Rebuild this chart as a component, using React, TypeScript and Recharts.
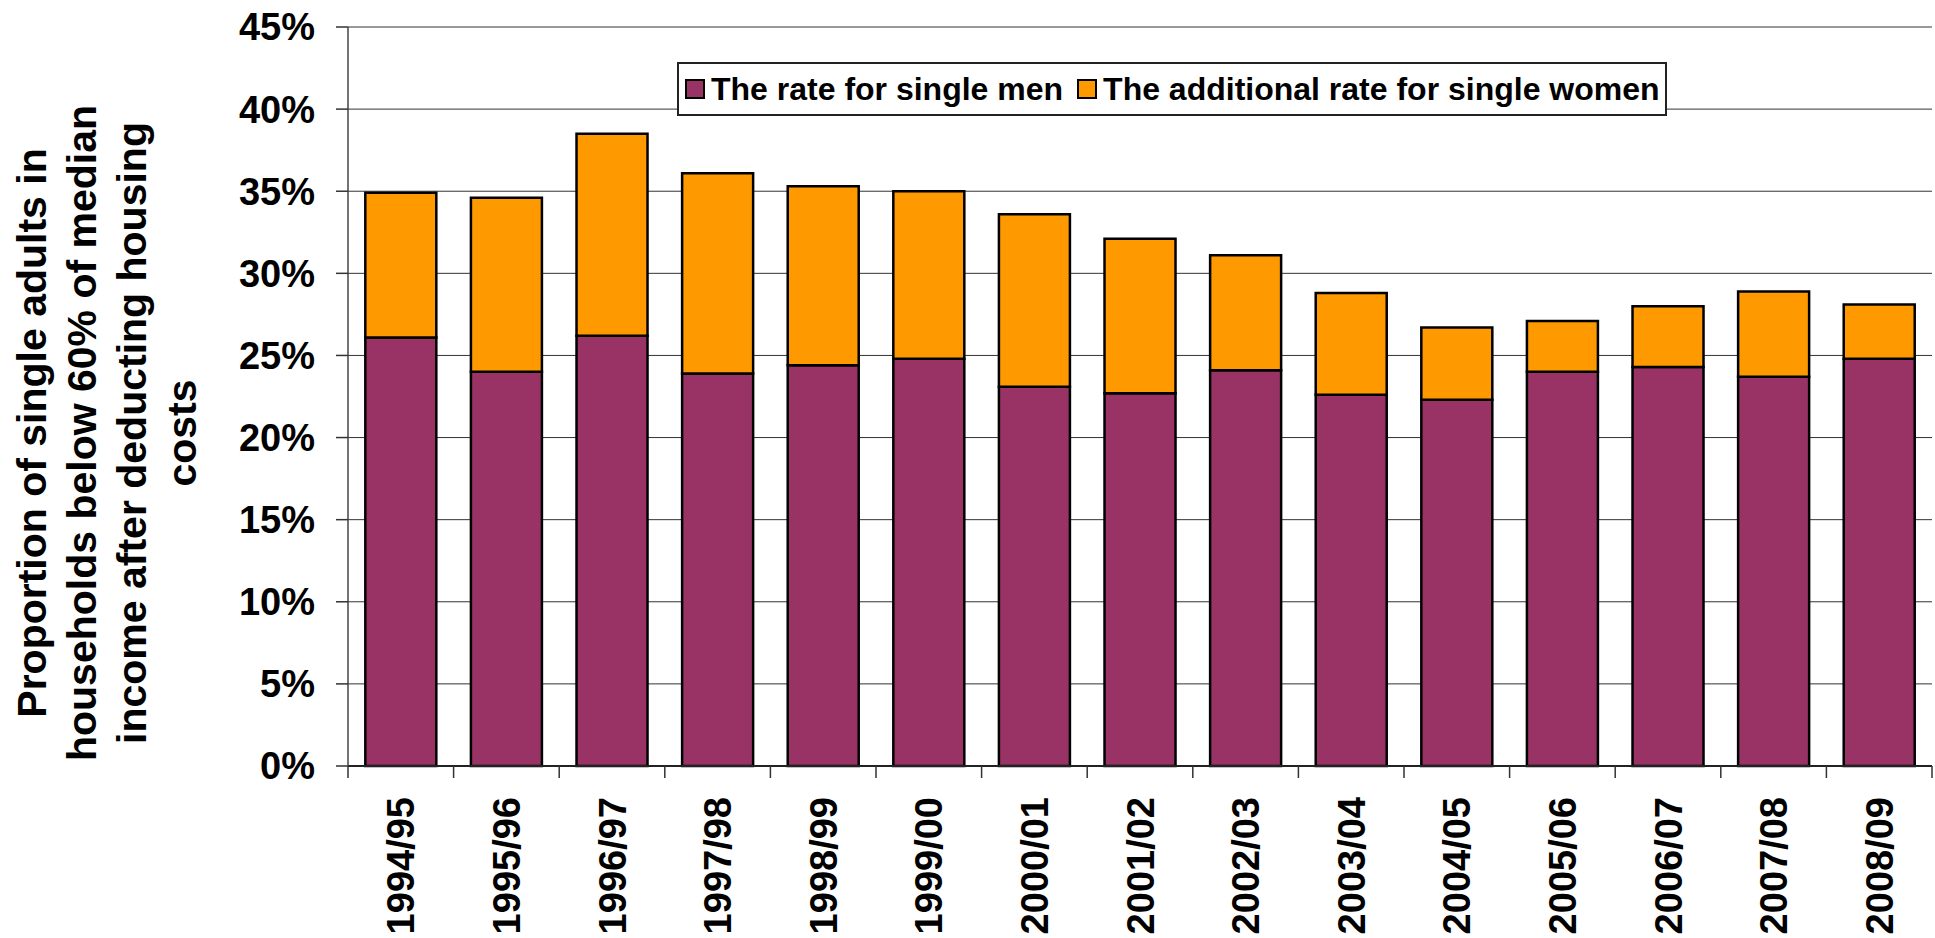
import React from "react";
import { BarChart, Bar, XAxis, YAxis, CartesianGrid } from "recharts";

const years = [
  "1994/95", "1995/96", "1996/97", "1997/98", "1998/99", "1999/00", "2000/01", "2001/02",
  "2002/03", "2003/04", "2004/05", "2005/06", "2006/07", "2007/08", "2008/09",
];
const menRate = [26.1, 24.0, 26.2, 23.9, 24.4, 24.8, 23.1, 22.7, 24.1, 22.6, 22.3, 24.0, 24.3, 23.7, 24.8];
const womenExtra = [8.8, 10.6, 12.3, 12.2, 10.9, 10.2, 10.5, 9.4, 7.0, 6.2, 4.4, 3.1, 3.7, 5.2, 3.3];
const yTicks = [0, 5, 10, 15, 20, 25, 30, 35, 40, 45];
const yTitleLines = [
  "Proportion of single adults in",
  "households below 60% of median",
  "income after deducting housing",
  "costs",
];
const legendItems = ["The rate for single men", "The additional rate for single women"];

const data = years.map((year, i) => ({ year, men: menRate[i], women: womenExtra[i] }));

const FONT = "'Liberation Sans', Arial, sans-serif";
const MEN = "#993366";
const WOMEN = "#FF9900";
const legendColors = [MEN, WOMEN];

const XTick = (props: any) => {
  const { x, y, payload, index } = props;
  const half = payload.offset || 0;
  return (
    <g>
      <line x1={x - half} x2={x - half} y1={y} y2={y + 12} stroke="#333" strokeWidth={1.5} />
      {index === years.length - 1 && (
        <line x1={x + half} x2={x + half} y1={y} y2={y + 12} stroke="#333" strokeWidth={1.5} />
      )}
      <g transform={`translate(${x},${y + 31})`}>
        <text
          transform="rotate(-90)"
          textAnchor="end"
          dy="0.355em"
          fontFamily={FONT}
          fontWeight="bold"
          fontSize={38}
          fill="#000"
        >
          {payload.value}
        </text>
      </g>
    </g>
  );
};

const YTitle = () => (
  <g>
    {yTitleLines.map((line, i) => (
      <text
        key={i}
        transform={`translate(${46 + i * 50},433) rotate(-90)`}
        textAnchor="middle"
        fontFamily={FONT}
        fontWeight="bold"
        fontSize={41}
        fill="#000"
      >
        {line}
      </text>
    ))}
  </g>
);

const LegendBox = () => (
  <div
    style={{
      position: "absolute",
      left: 677,
      top: 62,
      boxSizing: "border-box",
      width: 990,
      height: 54,
      border: "2px solid #222",
      background: "#fff",
      display: "flex",
      alignItems: "center",
      paddingLeft: 6,
      fontFamily: FONT,
      fontWeight: "bold",
      fontSize: 32,
      color: "#000",
      whiteSpace: "nowrap",
    }}
  >
    {legendItems.map((name, i) => (
      <div key={i} style={{ display: "flex", alignItems: "center", marginRight: 14 }}>
        <div
          style={{
            boxSizing: "border-box",
            width: 20,
            height: 20,
            background: legendColors[i],
            border: "2px solid #000",
            marginRight: 6,
          }}
        />
        <span>{name}</span>
      </div>
    ))}
  </div>
);

export default function App() {
  return (
    <div style={{ width: 1935, height: 938, position: "relative", background: "#fff" }}>
      <style>{`body{margin:0}`}</style>
      <BarChart
        width={1935}
        height={938}
        data={data}
        margin={{ top: 27, right: 3, bottom: 0, left: 248 }}
        barCategoryGap="16.4%"
      >
        <CartesianGrid vertical={false} stroke="#333" strokeWidth={1} />
        <XAxis
          dataKey="year"
          interval={0}
          height={172}
          tickSize={0}
          tickMargin={0}
          tickLine={false}
          axisLine={{ stroke: "#222", strokeWidth: 2 }}
          tick={<XTick />}
        />
        <XAxis
          xAxisId="top"
          dataKey="year"
          orientation="top"
          height={0}
          tick={false}
          tickLine={false}
          axisLine={{ stroke: "#888", strokeWidth: 2.5 }}
        />
        <YAxis
          domain={[0, 45]}
          ticks={yTicks}
          interval={0}
          width={100}
          tickSize={12}
          tickMargin={21}
          tickFormatter={(v: number) => `${v}%`}
          tick={{ fontFamily: FONT, fontWeight: "bold", fontSize: 38, fill: "#000" }}
          tickLine={{ stroke: "#333", strokeWidth: 1.5 }}
          axisLine={{ stroke: "#444", strokeWidth: 1.5 }}
          label={() => <YTitle />}
        />
        <YAxis
          yAxisId="right"
          orientation="right"
          domain={[0, 45]}
          width={0}
          tick={false}
          tickLine={false}
          axisLine={{ stroke: "#888", strokeWidth: 2.5 }}
        />
        <Bar dataKey="men" stackId="a" fill={MEN} stroke="#000" strokeWidth={2.5} isAnimationActive={false} />
        <Bar dataKey="women" stackId="a" fill={WOMEN} stroke="#000" strokeWidth={2.5} isAnimationActive={false} />
      </BarChart>
      <LegendBox />
    </div>
  );
}
